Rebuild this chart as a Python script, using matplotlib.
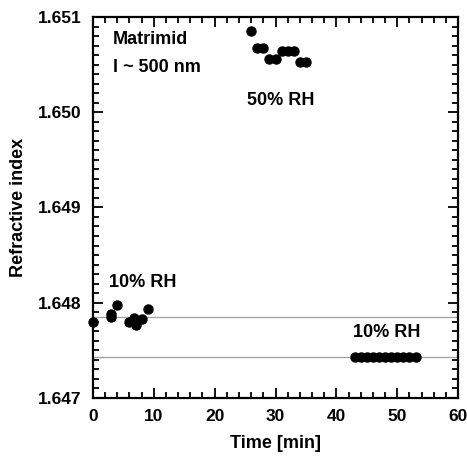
import numpy as np
import matplotlib
matplotlib.use('Agg')
import matplotlib.pyplot as plt
from matplotlib.ticker import MultipleLocator, FormatStrFormatter

plt.rcParams['font.family'] = ['Liberation Sans', 'DejaVu Sans']
plt.rcParams['font.weight'] = 'bold'

# 10% RH, first period
t_dry1 = [0, 3, 3, 4, 6, 6.8, 7, 8, 9]
n_dry1 = [1.64780, 1.64788, 1.64785, 1.64798, 1.64780, 1.64784, 1.64777, 1.64783, 1.64793]

# 50% RH
t_wet = [26, 27, 28, 29, 30, 31, 32, 33, 34, 35]
n_wet = [1.65085, 1.65068, 1.65068, 1.65056, 1.65056, 1.65064, 1.65064, 1.65064, 1.65053, 1.65053]

# 10% RH, second period
t_dry2 = [43, 44, 45, 46, 47, 48, 49, 50, 51, 52, 53]
n_dry2 = [1.64743] * 11

ref_lines = [1.647847, 1.647432]

fig = plt.figure(figsize=(4.67, 4.61), dpi=100)
ax = fig.add_axes([0.199, 0.137, 0.782, 0.826])

for y in ref_lines:
    ax.axhline(y, color='#a0a0a0', lw=0.9, zorder=1)

for t, n in [(t_dry1, n_dry1), (t_wet, n_wet), (t_dry2, n_dry2)]:
    ax.plot(t, n, 'o', color='black', ms=6.5, clip_on=False, zorder=3)

ax.set_xlim(0, 60)
ax.set_ylim(1.647, 1.651)
ax.xaxis.set_major_locator(MultipleLocator(10))
ax.xaxis.set_minor_locator(MultipleLocator(2))
ax.yaxis.set_major_locator(MultipleLocator(0.001))
ax.yaxis.set_minor_locator(MultipleLocator(0.0001))
ax.yaxis.set_major_formatter(FormatStrFormatter('%.3f'))

ax.tick_params(which='both', direction='in', top=True, right=True, width=1.3)
ax.tick_params(which='major', length=7, labelsize=12.5, pad=8)
ax.tick_params(which='minor', length=4)
for s in ax.spines.values():
    s.set_linewidth(1.6)
for lab in ax.get_xticklabels() + ax.get_yticklabels():
    lab.set_fontweight('bold')

ax.set_xlabel('Time [min]', fontsize=13, fontweight='bold', labelpad=8)
ax.set_ylabel('Refractive index', fontsize=13, fontweight='bold', labelpad=8)

ax.text(3.3, 1.65076, 'Matrimid', fontsize=13, fontweight='bold', va='center')
ax.text(3.3, 1.65047, 'l ~ 500 nm', fontsize=13, fontweight='bold', va='center')
ax.text(30.8, 1.65012, '50% RH', fontsize=13, fontweight='bold', ha='center', va='center')
ax.text(8.2, 1.64821, '10% RH', fontsize=13, fontweight='bold', ha='center', va='center')
ax.text(48.2, 1.64769, '10% RH', fontsize=13, fontweight='bold', ha='center', va='center')

fig.savefig('out.png', dpi=100)
